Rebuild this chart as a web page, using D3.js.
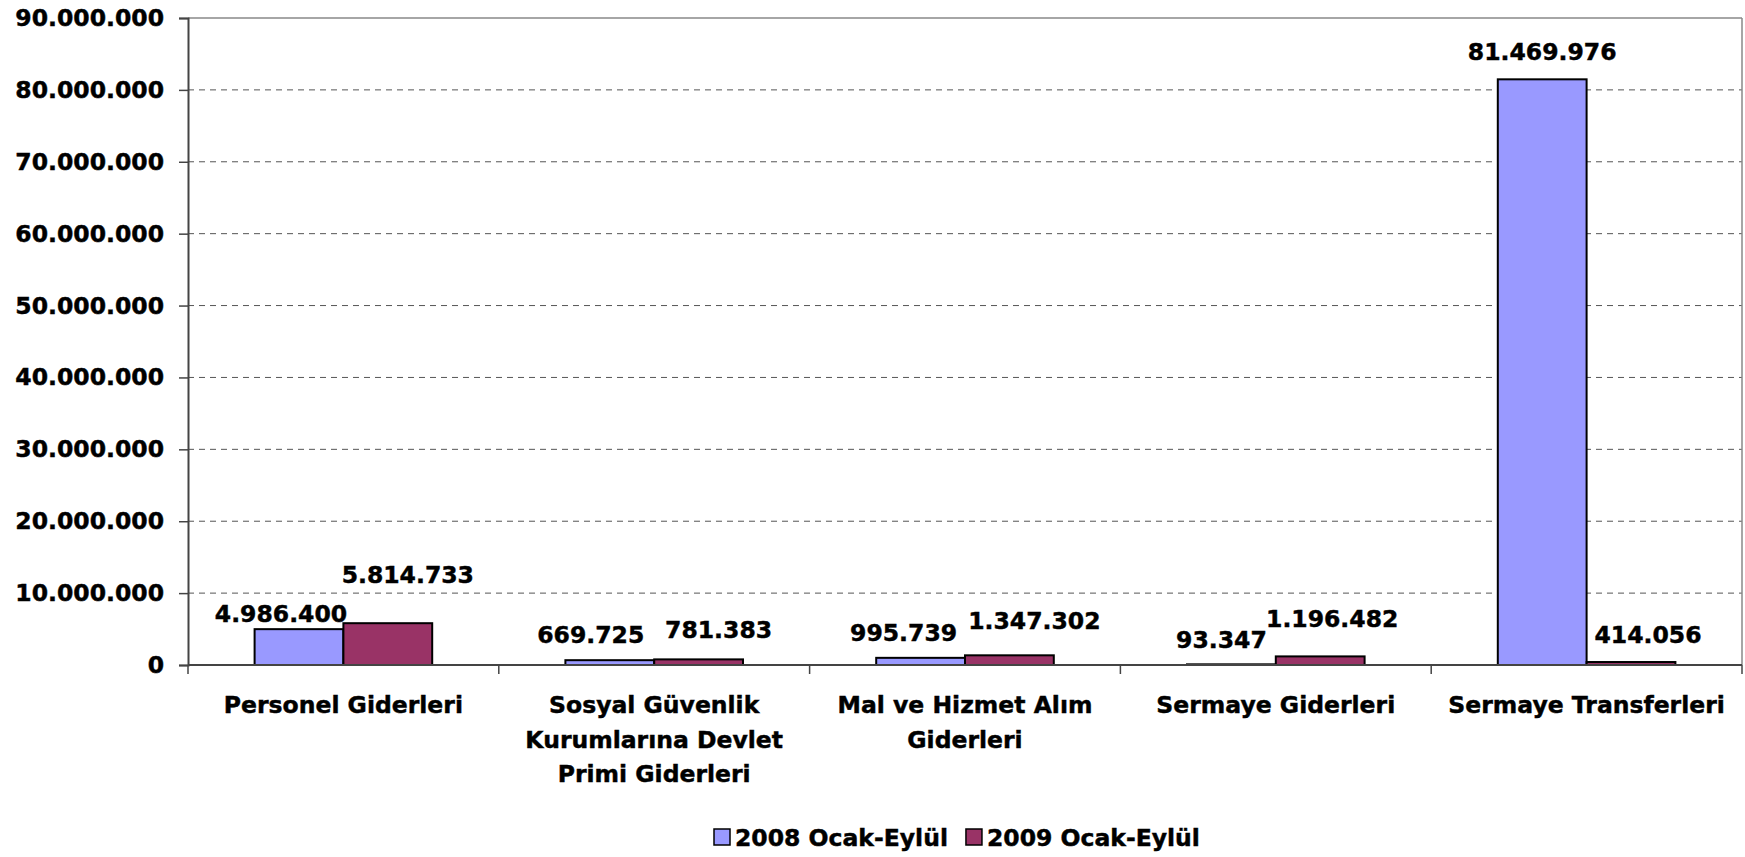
<!DOCTYPE html>
<html><head><meta charset="utf-8">
<script src="https://cdn.jsdelivr.net/npm/d3@7"></script>
<style>
html,body{margin:0;padding:0;background:#fff;}
svg{display:block;font-family:"DejaVu Sans",Verdana,sans-serif;font-weight:bold;}
svg text{stroke:#000;stroke-width:0.45px;paint-order:stroke;}
</style></head>
<body>
<svg id="chart" width="1745" height="857"></svg>
<script>
const categories = ["Personel Giderleri","Sosyal Güvenlik Kurumlarına Devlet Primi Giderleri","Mal ve Hizmet Alım Giderleri","Sermaye Giderleri","Sermaye Transferleri"];
const seriesNames = ["2008 Ocak-Eylül","2009 Ocak-Eylül"];
const values2008 = [4986400, 669725, 995739, 93347, 81469976];
const values2009 = [5814733, 781383, 1347302, 1196482, 414056];
const yTicks = [0,10000000,20000000,30000000,40000000,50000000,60000000,70000000,80000000,90000000];
const colors = ["#9999FF","#993366"];
// manual label nudges (dx from bar centre, dy baseline relative to bar top)
const nudge2008 = [[-18,-7],[-19,-17],[-17,-17],[-10,-16],[0,-19]];
const nudge2009 = [[20,-40],[20,-21],[25,-26],[12,-29],[17,-19]];

const svg = d3.select("#chart");
const L = 188, R = 1742, T = 18, B = 665;
const fs = 23.5;
const loc = d3.formatLocale({decimal:",",thousands:".",grouping:[3],currency:["",""]});
const fmt = loc.format(",d");

const x = d3.scaleBand().domain(categories).range([L,R]).paddingInner(0).paddingOuter(0);
const y = d3.scaleLinear().domain([0,90000000]).range([B,T]);
const bw = x.bandwidth()/3.5;

// gridlines
svg.append("g").selectAll("line").data(yTicks.filter(t=>t>0 && t<90000000)).join("line")
  .attr("x1",L).attr("x2",R).attr("y1",d=>y(d)).attr("y2",d=>y(d))
  .attr("stroke","#555").attr("stroke-width",1).attr("stroke-dasharray","6,5");

// plot border top/right
svg.append("line").attr("x1",L).attr("x2",R).attr("y1",y(90000000)).attr("y2",y(90000000)).attr("stroke","#888").attr("stroke-width",1.5);
svg.append("line").attr("x1",R).attr("x2",R).attr("y1",T).attr("y2",B).attr("stroke","#888").attr("stroke-width",1.5);

// bars
const series = [values2008, values2009];
const nudges = [nudge2008, nudge2009];
series.forEach((vals,si)=>{
  const g = svg.append("g");
  g.selectAll("rect").data(vals).join("rect")
    .attr("x",(d,i)=>x(categories[i]) + x.bandwidth()/2 - bw + si*bw)
    .attr("y",d=>y(d))
    .attr("width",bw)
    .attr("height",d=>B-y(d))
    .attr("fill",colors[si]).attr("stroke","#000").attr("stroke-width",2);
  g.selectAll("text").data(vals).join("text")
    .attr("x",(d,i)=>x(categories[i]) + x.bandwidth()/2 - bw + si*bw + bw/2 + nudges[si][i][0])
    .attr("y",(d,i)=>y(d) + nudges[si][i][1])
    .attr("text-anchor","middle").attr("font-size",fs).attr("fill","#000")
    .text(d=>fmt(d));
});

// y axis
const yAxis = d3.axisLeft(y).tickValues(yTicks).tickSize(9).tickPadding(15).tickFormat(d=>fmt(d));
const ya = svg.append("g").attr("transform",`translate(${L},0)`).call(yAxis);
ya.select(".domain").attr("stroke","#444").attr("stroke-width",2);
ya.selectAll(".tick line").attr("stroke","#444").attr("stroke-width",1.5);
ya.selectAll(".tick text").attr("font-size",fs).attr("font-family","DejaVu Sans").attr("font-weight","bold").attr("fill","#000");

// x axis
svg.append("line").attr("x1",L).attr("x2",R).attr("y1",B).attr("y2",B).attr("stroke","#444").attr("stroke-width",2);
const bounds = categories.map(c=>x(c)).concat([R]);
svg.append("g").selectAll("line").data(bounds).join("line")
  .attr("x1",d=>d).attr("x2",d=>d).attr("y1",B).attr("y2",B+9).attr("stroke","#444").attr("stroke-width",1.5);

// category labels with wrapping
const maxW = 295, lineH = 34.7;
categories.forEach(c=>{
  const t = svg.append("text").attr("x",x(c)+x.bandwidth()/2).attr("y",713)
    .attr("text-anchor","middle").attr("font-size",fs).attr("fill","#000");
  const words = c.split(" ");
  let line = [], lines = [];
  const probe = t.append("tspan");
  words.forEach(w=>{
    const test = line.concat([w]).join(" ");
    probe.text(test);
    if (probe.node().getComputedTextLength() > maxW && line.length) { lines.push(line.join(" ")); line=[w]; }
    else line.push(w);
  });
  lines.push(line.join(" "));
  probe.remove();
  lines.forEach((ln,i)=>{
    t.append("tspan").attr("x",x(c)+x.bandwidth()/2).attr("y",713+i*lineH).text(ln);
  });
});

// legend
const lg = svg.append("g");
const legFs = 23.5;
let lx = 714;
seriesNames.forEach((n,i)=>{
  lg.append("rect").attr("x",lx).attr("y",829).attr("width",16).attr("height",16)
    .attr("fill",colors[i]).attr("stroke","#000").attr("stroke-width",1.5);
  const tx = lg.append("text").attr("x",lx+21).attr("y",846).attr("font-size",legFs).attr("fill","#000").text(n);
  lx += 21 + tx.node().getComputedTextLength() + 18;
});
</script>
</body></html>
